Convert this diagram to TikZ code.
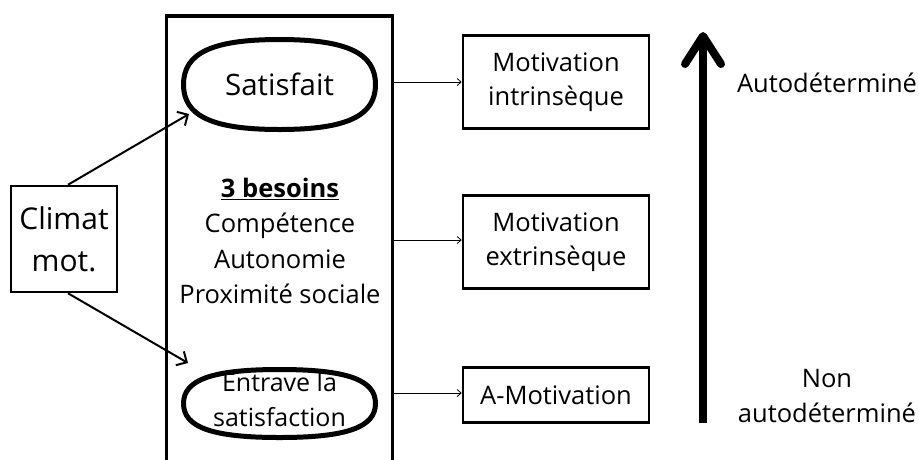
\documentclass[tikz,border=0pt]{standalone}
\usepackage{fontspec}
\setmainfont{Open Sans}
\usetikzlibrary{arrows.meta, positioning}
% ovale un peu carre: centre x, centre y, demi-largeur, demi-hauteur
\newcommand{\ovale}[4]{%
    \draw[line width=5pt, line join=round] ({#1+#3},#2) .. controls ({#1+#3},{#2-0.7*#4}) and ({#1+0.7*#3},{#2-#4}) .. (#1,{#2-#4})
        .. controls ({#1-0.7*#3},{#2-#4}) and ({#1-#3},{#2-0.7*#4}) .. ({#1-#3},#2)
        .. controls ({#1-#3},{#2+0.7*#4}) and ({#1-0.7*#3},{#2+#4}) .. (#1,{#2+#4})
        .. controls ({#1+0.7*#3},{#2+#4}) and ({#1+#3},{#2+0.7*#4}) .. ({#1+#3},#2) -- cycle;}
\tikzset{
    boxM/.style={draw, line width=2.5pt, minimum width=186pt, minimum height=93pt, align=center, font=\fontsize{25.5}{34}\selectfont, inner sep=0pt},
    ellS/.style={minimum width=192pt, align=center, inner sep=0pt},
    arrC/.style={-{Straight Barb[length=8pt, width=16pt, line width=2pt]}, line width=2pt},
    arrT/.style={-{Straight Barb[length=4pt, width=7pt]}, line width=0.8pt}
}
\begin{document}
\begin{tikzpicture}[x=1pt, y=-1pt]
    \useasboundingbox (0,0) rectangle (919,459);
    % cadre central
    \node[draw, line width=3.5pt, minimum width=226pt, minimum height=460pt] (besoins) at (279.5,246) {};
    \ovale{279.5}{84.5}{96}{45}
    \ovale{279.5}{403.5}{96}{34}
    \node[ellS, minimum height=90pt, font=\fontsize{29.5}{34}\selectfont] (sat) at (279.5,84.5) {Satisfait};
    \node[ellS, minimum height=68pt, font=\fontsize{25}{35}\selectfont] (ent) at (279.5,400) {Entrave la\\satisfaction};
    \node[align=center, font=\fontsize{25.5}{35.5}\selectfont] (liste) at (280,241)
        {\textbf{\underline{3 besoins}}\\Compétence\\Autonomie\\Proximité sociale};
    % climat
    \node[draw, line width=2.5pt, minimum width=106pt, minimum height=106pt, align=center,
        inner sep=0pt, font=\fontsize{30}{42}\selectfont] (climat) at (64,239) {Climat\\mot.};
    \coordinate (satIn) at (189,114);
    \coordinate (entIn) at (188,363);
    \draw[arrC] ([xshift=4pt]climat.north) -- (satIn);
    \draw[arrC] ([xshift=4pt]climat.south) -- (entIn);
    % types de motivation
    \node[boxM] (mi) at (556,82) {Motivation\\intrinsèque};
    \node[boxM] (me) at (556,242) {Motivation\\extrinsèque};
    \node[boxM, minimum height=55pt] (am) at (556,395) {A-Motivation};
    \draw[arrT] (besoins.east |- 0,82) -- (mi.west |- 0,82);
    \draw[arrT] (besoins.east |- 0,240) -- (me.west |- 0,240);
    \draw[arrT] (besoins.east |- 0,393) -- (am.west |- 0,393);
    % continuum
    \coordinate (bas) at (703,423);
    \coordinate (haut) at (703,36);
    \draw[line width=8pt] (bas) -- (haut);
    \draw[line width=8pt, line cap=round, line join=round] (685,64) -- (haut) -- (721,64);
    \node[font=\fontsize{25.5}{34}\selectfont] (auto) at (827,83) {Autodéterminé};
    \node[align=center, font=\fontsize{25.5}{35}\selectfont] (nonauto) at (827,396) {Non\\autodéterminé};
\end{tikzpicture}
\end{document}
